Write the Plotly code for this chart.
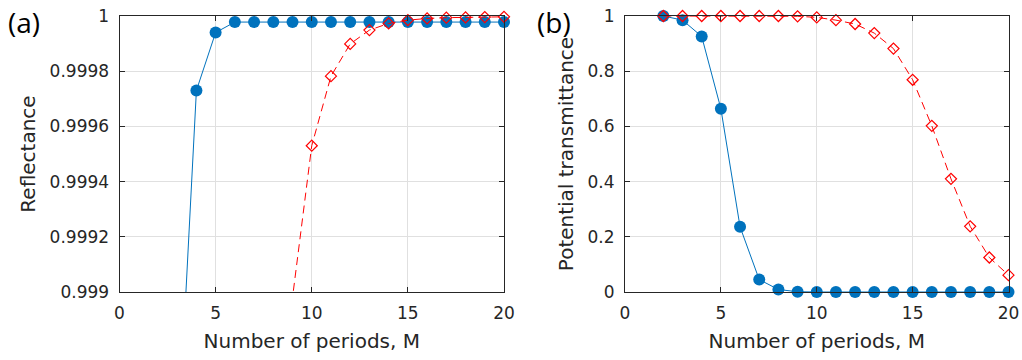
import plotly.graph_objects as go

# ---- data ----
periods = list(range(2, 21))
refl_blue = [0.9930, 0.99839, 0.99973, 0.99994] + [0.999978] * 15
refl_red = [0.9700, 0.9800, 0.9870, 0.9920, 0.9950, 0.9970, 0.9983, 0.99898,
            0.99953, 0.999782, 0.999899, 0.999949, 0.999973, 0.999985,
            0.999991, 0.999994, 0.999995, 0.999996, 0.999997]
trans_blue = [1.0, 0.985, 0.926, 0.664, 0.236, 0.045, 0.009, 0.001,
              0.0, 0.0, 0.0, 0.0, 0.0, 0.0, 0.0, 0.0, 0.0, 0.0, 0.0]
trans_red = [1.0, 1.0, 1.0, 1.0, 1.0, 1.0, 1.0, 0.999, 0.995, 0.985, 0.971,
             0.938, 0.882, 0.769, 0.602, 0.41, 0.238, 0.125, 0.061]

x_ticks = [0, 5, 10, 15, 20]
refl_ticks = [0.999, 0.9992, 0.9994, 0.9996, 0.9998, 1.0]
refl_ticktext = ["0.999", "0.9992", "0.9994", "0.9996", "0.9998", "1"]
trans_ticks = [0, 0.2, 0.4, 0.6, 0.8, 1.0]
trans_ticktext = ["0", "0.2", "0.4", "0.6", "0.8", "1"]

BLUE = "#0072BD"
RED = "#FF0000"
AX = "#262626"
FONT = "DejaVu Sans, sans-serif"

fig = go.Figure()

def add_pair(yb, yr, xa, ya):
    fig.add_trace(go.Scatter(
        x=periods, y=yb, xaxis=xa, yaxis=ya, mode="lines+markers",
        line=dict(color=BLUE, width=1),
        marker=dict(symbol="circle", size=12, color=BLUE),
        cliponaxis=False, showlegend=False))
    fig.add_trace(go.Scatter(
        x=periods, y=yr, xaxis=xa, yaxis=ya, mode="lines+markers",
        line=dict(color=RED, width=1, dash="8px,5px"),
        marker=dict(symbol="diamond-open", size=8.5, color=RED,
                    line=dict(width=1.2, color=RED)),
        cliponaxis=False, showlegend=False))

add_pair(refl_blue, refl_red, "x", "y")
add_pair(trans_blue, trans_red, "x2", "y2")

common_x = dict(range=[0, 20], tickvals=x_ticks, ticks="inside", ticklen=5,
                tickcolor=AX, showline=True, linecolor=AX, linewidth=1,
                mirror="allticks", showgrid=True, gridcolor="#E0E0E0",
                gridwidth=1, zeroline=False, automargin=False,
                ticklabelstandoff=6,
                tickfont=dict(family=FONT, size=17, color=AX),
                title=dict(text="Number of periods, M",
                           font=dict(family=FONT, size=20, color=AX),
                           standoff=11))
common_y = dict(ticks="inside", ticklen=5, tickcolor=AX, showline=True,
                linecolor=AX, linewidth=1, mirror="allticks", showgrid=True,
                gridcolor="#E0E0E0", gridwidth=1, zeroline=False,
                automargin=False, ticklabelstandoff=6,
                tickfont=dict(family=FONT, size=17, color=AX))

ydom = [1 - 292 / 360, 1 - 16 / 360]
fig.update_layout(
    width=1022, height=360,
    margin=dict(l=0, r=0, t=0, b=0),
    paper_bgcolor="white", plot_bgcolor="white",
    xaxis=dict(domain=[119.5 / 1022, 504 / 1022], anchor="y", **common_x),
    yaxis=dict(domain=ydom, anchor="x", range=[0.999, 1.0],
               tickvals=refl_ticks, ticktext=refl_ticktext,
               title=dict(text="Reflectance",
                          font=dict(family=FONT, size=20, color=AX),
                          standoff=8),
               **common_y),
    xaxis2=dict(domain=[625 / 1022, 1008.5 / 1022], anchor="y2", **common_x),
    yaxis2=dict(domain=ydom, anchor="x2", range=[0, 1.0],
                tickvals=trans_ticks, ticktext=trans_ticktext,
                title=dict(text="Potential transmittance",
                           font=dict(family=FONT, size=20, color=AX),
                           standoff=8),
                **common_y),
    annotations=[
        dict(text="(a)", x=6 / 1022, y=1 - 1 / 360, xref="paper", yref="paper",
             xanchor="left", yanchor="top", showarrow=False,
             font=dict(family="Open Sans, sans-serif", size=28, color="black")),
        dict(text="(b)", x=535 / 1022, y=1 - 1 / 360, xref="paper", yref="paper",
             xanchor="left", yanchor="top", showarrow=False,
             font=dict(family="Open Sans, sans-serif", size=28, color="black")),
    ],
)

fig.write_html("out.html")
